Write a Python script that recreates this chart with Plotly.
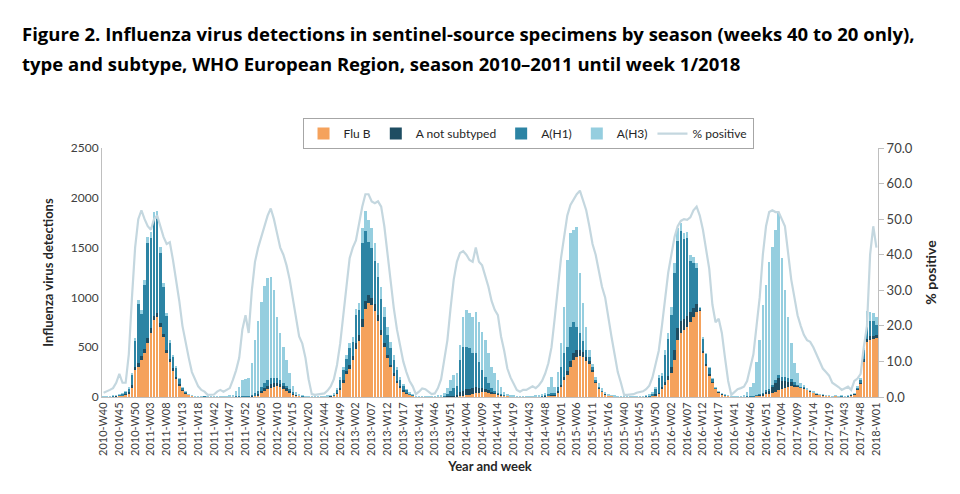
import plotly.graph_objects as go

# ---- categories: ISO weeks 40..20 of every season, last season up to 2018-W01
season_start_years = [2010, 2011, 2012, 2013, 2014, 2015, 2016, 2017]
weeks_in_year = {2010: 52, 2011: 52, 2012: 52, 2013: 52, 2014: 52, 2015: 53, 2016: 52, 2017: 52}
last_week_of_season = {2017: 1}
weeks = []
for y in season_start_years:
    for w in range(40, weeks_in_year[y] + 1):
        weeks.append(f"{y}-W{w:02d}")
    for w in range(1, last_week_of_season.get(y, 20) + 1):
        weeks.append(f"{y + 1}-W{w:02d}")
tick_labels = weeks[::5]

# ---- series values, season by season
flu_b = [
    # 2010-11
    2, 3, 4, 6, 8, 12, 15, 25, 40, 100, 270, 300, 370, 440, 540, 640, 770, 800, 705, 605, 440, 355, 270, 187, 120, 70, 40, 22, 14, 7, 5, 3, 2,
    # 2011-12
    1, 1, 1, 1, 1, 1, 1, 1, 1, 2, 3, 3, 4, 4, 5, 10, 20, 40, 60, 80, 95, 105, 110, 100, 85, 70, 50, 30, 20, 10, 6, 4, 2,
    # 2012-13
    2, 2, 2, 3, 3, 5, 8, 15, 35, 80, 150, 230, 280, 370, 480, 560, 700, 880, 940, 920, 860, 760, 620, 500, 390, 300, 220, 150, 100, 60, 38, 22, 12,
    # 2013-14
    1, 1, 1, 1, 1, 1, 1, 2, 2, 2, 3, 5, 5, 6, 10, 15, 20, 25, 30, 40, 45, 50, 50, 45, 40, 35, 30, 20, 15, 10, 7, 5, 4,
    # 2014-15
    2, 2, 2, 3, 3, 4, 5, 6, 8, 12, 20, 20, 50, 104, 170, 220, 305, 371, 405, 411, 405, 360, 330, 260, 150, 90, 55, 30, 15, 10, 6, 4, 3,
    # 2015-16
    1, 1, 1, 2, 2, 3, 3, 4, 6, 10, 20, 37, 87, 120, 170, 237, 371, 572, 640, 673, 706, 756, 806, 857, 867, 440, 320, 220, 150, 85, 50, 30, 18, 10,
    # 2016-17
    2, 2, 2, 3, 4, 4, 5, 6, 10, 15, 20, 30, 35, 45, 55, 70, 85, 95, 105, 110, 110, 105, 95, 90, 75, 60, 45, 30, 25, 20, 16, 12, 8,
    # 2017-18
    10, 6, 8, 6, 8, 20, 30, 80, 140, 350, 550, 570, 580, 600,
]
a_not_subtyped = [
    1, 1, 1, 2, 2, 3, 3, 5, 8, 20, 30, 40, 40, 40, 50, 50, 40, 40, 40, 30, 30, 25, 20, 15, 10, 5, 3, 2, 1, 1, 1, 0, 0,
    0, 0, 0, 0, 0, 1, 1, 1, 1, 2, 2, 3, 3, 4, 5, 8, 10, 20, 30, 35, 40, 40, 35, 30, 25, 20, 15, 8, 5, 3, 2, 1, 1,
    1, 0, 1, 1, 1, 1, 2, 4, 8, 15, 20, 30, 40, 40, 60, 60, 80, 80, 80, 70, 70, 60, 50, 40, 30, 25, 20, 15, 10, 6, 4, 2, 1,
    1, 1, 1, 1, 1, 1, 1, 1, 2, 2, 3, 8, 10, 12, 40, 50, 60, 60, 60, 60, 50, 40, 30, 25, 15, 10, 8, 5, 3, 2, 1, 1, 1,
    1, 1, 1, 1, 1, 1, 1, 2, 2, 3, 4, 4, 8, 20, 30, 40, 60, 70, 70, 60, 50, 40, 30, 15, 10, 5, 3, 2, 1, 1, 1, 0, 0,
    0, 0, 1, 1, 1, 1, 1, 2, 3, 4, 6, 8, 10, 30, 40, 60, 100, 120, 120, 110, 110, 100, 90, 80, 5, 20, 15, 10, 5, 2, 1, 1, 1, 0,
    0, 0, 1, 1, 1, 1, 2, 3, 5, 8, 15, 25, 30, 60, 90, 120, 80, 70, 50, 40, 20, 10, 5, 3, 2, 2, 1, 1, 1, 1, 1, 1, 0,
    1, 1, 1, 1, 1, 2, 2, 3, 5, 30, 30, 40, 30, 20,
]
a_h1 = [
    1, 3, 3, 5, 7, 11, 17, 22, 42, 110, 270, 595, 420, 645, 960, 910, 970, 950, 705, 465, 340, 170, 115, 93, 55, 22, 10, 5, 4, 1, 1, 1, 1,
    0, 0, 0, 0, 0, 0, 1, 1, 2, 3, 4, 4, 5, 5, 10, 20, 30, 40, 50, 60, 55, 50, 45, 40, 30, 25, 15, 10, 5, 3, 2, 1, 1,
    1, 1, 1, 1, 2, 3, 5, 11, 32, 85, 100, 120, 170, 140, 280, 250, 770, 710, 540, 510, 440, 380, 310, 260, 200, 165, 135, 105, 70, 52, 30, 16, 9,
    1, 1, 1, 1, 1, 2, 2, 3, 5, 10, 24, 47, 75, 92, 321, 440, 425, 405, 348, 338, 260, 180, 124, 70, 32, 15, 4, 2, 2, 1, 1, 1, 0,
    1, 1, 1, 1, 2, 2, 3, 5, 8, 15, 20, 16, 40, 181, 238, 245, 341, 315, 231, 169, 105, 70, 40, 25, 14, 10, 7, 3, 2, 1, 1, 1, 1,
    1, 1, 1, 1, 2, 2, 3, 5, 10, 21, 58, 145, 110, 272, 370, 530, 771, 871, 904, 800, 784, 509, 453, 355, 25, 130, 100, 66, 33, 6, 8, 3, 2, 1,
    1, 1, 1, 1, 2, 2, 3, 4, 5, 5, 10, 15, 20, 20, 25, 30, 40, 40, 40, 30, 20, 10, 5, 3, 2, 2, 2, 1, 1, 1, 1, 1, 1,
    2, 1, 1, 1, 1, 3, 3, 10, 30, 100, 180, 150, 150, 100,
]
a_h3 = [
    1, 1, 2, 2, 3, 4, 5, 8, 10, 10, 20, 40, 40, 50, 60, 60, 80, 80, 60, 40, 30, 20, 15, 10, 5, 3, 2, 1, 1, 1, 1, 1, 0,
    2, 2, 3, 4, 5, 6, 7, 12, 21, 53, 91, 160, 168, 177, 320, 532, 700, 850, 970, 1015, 1010, 880, 615, 470, 365, 255, 160, 62, 20, 9, 5, 2, 1,
    1, 1, 1, 1, 2, 3, 5, 10, 15, 20, 30, 40, 50, 50, 60, 70, 150, 200, 220, 200, 180, 150, 120, 100, 80, 60, 45, 30, 20, 12, 8, 5, 3,
    1, 1, 2, 2, 3, 4, 6, 9, 16, 31, 57, 110, 130, 130, 149, 300, 365, 350, 367, 417, 400, 385, 366, 300, 218, 180, 128, 78, 35, 17, 9, 5, 3,
    1, 1, 2, 3, 4, 5, 6, 12, 22, 70, 156, 60, 152, 235, 469, 870, 937, 921, 1004, 602, 380, 236, 72, 30, 30, 32, 22, 15, 12, 8, 4, 3, 1,
    1, 1, 1, 1, 1, 2, 3, 4, 6, 10, 20, 30, 30, 50, 60, 80, 100, 130, 80, 60, 60, 60, 60, 50, 3, 10, 5, 4, 2, 2, 1, 1, 1, 1,
    1, 2, 2, 3, 5, 40, 94, 124, 335, 544, 879, 1055, 1274, 1385, 1507, 1630, 1187, 869, 611, 359, 188, 112, 32, 24, 8, 6, 6, 5, 3, 3, 2, 1, 1,
    2, 2, 2, 2, 2, 5, 5, 10, 15, 10, 100, 90, 80, 80,
]
pct_positive = [
    1.2, 1.5, 2, 2.5, 4, 6.5, 4, 4, 12, 28, 42, 50, 52.5, 50, 48, 47, 50, 51, 48, 45, 43, 43.5, 38.5, 33, 27, 20, 15, 11, 7, 5, 3, 2, 1.5,
    0.6, 0.6, 0.7, 1.5, 2, 1.5, 2, 2.5, 4.8, 7.5, 11, 19, 23, 18, 30, 38, 42, 45, 48, 51, 53, 50, 46, 42, 40, 37, 33, 28, 22, 17, 15, 11, 5,
    0.8, 0.6, 0.7, 0.8, 1, 1.8, 3, 5, 9, 15, 24, 31, 39, 42, 44, 49, 53.5, 57, 57, 55, 54.5, 55, 53.5, 48, 40, 33, 25, 19, 14, 10, 7, 4.5, 3,
    0.8, 1.5, 2.4, 2.2, 1.5, 0.8, 1, 2.5, 5, 10, 16, 25, 33, 38, 40.5, 41, 40, 38.5, 38, 42, 38, 37, 34, 31, 27, 24.5, 23, 17, 13, 8, 5.5, 3.5, 2,
    1.5, 2, 2, 2.5, 3, 2.5, 3.3, 4.5, 6.6, 9.5, 14, 22, 31, 39, 45, 51, 54, 55.5, 57, 58, 55, 52.5, 48, 43, 40, 35, 31, 28, 22, 17, 12, 7, 4,
    0.6, 0.6, 0.7, 0.8, 1.2, 1.5, 1.6, 2.2, 3.2, 5.5, 9, 13, 20, 27, 35, 40, 45, 48, 49.5, 50, 49.8, 50.5, 52.5, 53.5, 51, 47, 42, 36, 26, 21, 22, 18, 11, 4.5,
    0.6, 1.5, 2.2, 2.5, 2.9, 4.5, 8, 12, 20, 28, 40, 48, 52, 52.5, 52, 52, 50, 48, 40.5, 33, 28, 23, 20, 17.5, 16, 15.5, 14, 12, 9.5, 8, 7, 6, 4,
    3.5, 2.8, 2.0, 2.5, 2.9, 2.0, 4.5, 5.2, 6.5, 14, 20, 40, 48, 42,
]

# ---- styling
C_B = "#F5A25C"
C_ANS = "#1E4D62"
C_H1 = "#2C84A4"
C_H3 = "#95CEDF"
C_LINE = "#C4D7DF"
FONT = "Lato"

fig = go.Figure()
for name, vals, col in [("Flu B", flu_b, C_B), ("A not subtyped", a_not_subtyped, C_ANS),
                        ("A(H1)", a_h1, C_H1), ("A(H3)", a_h3, C_H3)]:
    fig.add_trace(go.Bar(x=weeks, y=vals, name=name, marker=dict(color=col, line=dict(width=0))))
fig.add_trace(go.Scatter(x=weeks, y=pct_positive, name="% positive", mode="lines",
                         line=dict(color=C_LINE, width=2.2), yaxis="y2"))

fig.update_layout(
    width=960, height=494,
    margin=dict(l=102, r=82, t=148, b=97),
    barmode="stack", bargap=0.2,
    plot_bgcolor="white", paper_bgcolor="white",
    font=dict(family=FONT, color="#404040"),
    showlegend=True,
    legend=dict(orientation="h", x=0.549, xanchor="center", y=1.12, yanchor="top",
                bordercolor="#A6A6A6", borderwidth=1, font=dict(size=12, color="#262626"),
                traceorder="normal", itemwidth=30),
    xaxis=dict(type="category", categoryorder="array", categoryarray=weeks,
               tickmode="array", tickvals=tick_labels, ticktext=tick_labels,
               tickangle=-90, tickfont=dict(size=11, color="#404040"),
               showline=True, linecolor="#BFBFBF", ticks="", showgrid=False,
               title=dict(text="<b>Year and week</b>", font=dict(size=13, color="#262626"), standoff=6)),
    yaxis=dict(range=[0, 2500], dtick=500, showline=True, linecolor="#BFBFBF",
               ticks="", showgrid=False, zeroline=False, tickfont=dict(size=12, color="#404040"),
               title=dict(text="<b>Influenza virus detections</b>", font=dict(size=13, color="#262626"), standoff=14)),
    yaxis2=dict(range=[0, 70], dtick=10, tickformat=".1f", overlaying="y", side="right",
                showline=True, linecolor="#BFBFBF", ticks="outside", ticklen=5, tickcolor="#BFBFBF",
                showgrid=False, zeroline=False, tickfont=dict(size=13, color="#404040"),
                title=dict(text="<b>% positive</b>", font=dict(size=14, color="#262626"), standoff=14)),
    annotations=[
        dict(text="<b>Figure 2. Influenza virus detections in sentinel-source specimens by season (weeks 40 to 20 only),</b>",
             xref="paper", yref="paper", x=(20 - 102) / 776, y=(397 - 33) / 249, xanchor="left", yanchor="middle",
             showarrow=False, font=dict(family="Open Sans", size=18.5, color="#000000")),
        dict(text="<b>type and subtype, WHO European Region, season 2010–2011 until week 1/2018</b>",
             xref="paper", yref="paper", x=(20 - 102) / 776, y=(397 - 63) / 249, xanchor="left", yanchor="middle",
             showarrow=False, font=dict(family="Open Sans", size=18.5, color="#000000")),
    ],
)

fig.write_html("out.html")
